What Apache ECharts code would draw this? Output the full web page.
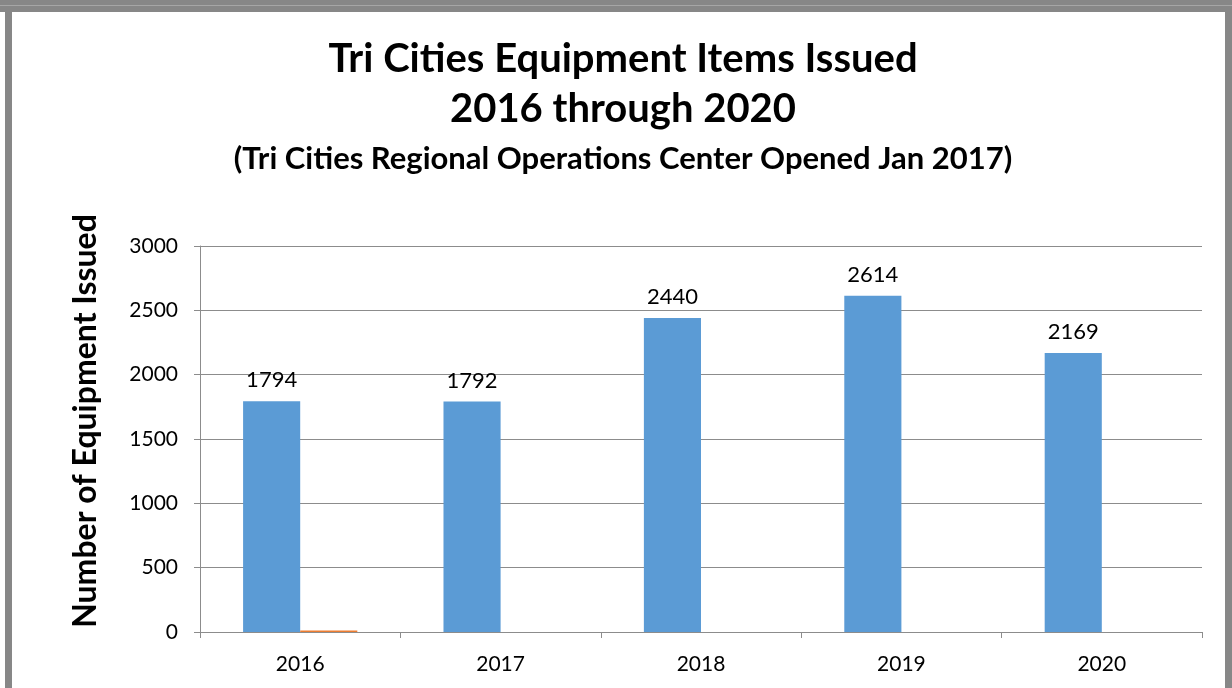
<!DOCTYPE html>
<html>
<head>
<meta charset="utf-8">
<script src="https://cdn.jsdelivr.net/npm/echarts@6/dist/echarts.min.js"></script>
<style>
  html, body { margin: 0; padding: 0; background: #fff; }
  #echarts { width: 1232px; height: 688px; }
</style>
</head>
<body>
<div id="echarts"></div>
<script>
// chart data
var years = ['2016', '2017', '2018', '2019', '2020'];
var issued = [1794, 1792, 2440, 2614, 2169];
var other = [12, 0, 0, 0, 0];
var yTicks = [0, 500, 1000, 1500, 2000, 2500, 3000];

var font = 'Lato, "Open Sans", sans-serif';
var myChart = echarts.init(document.getElementById('echarts'));

var option = {
  backgroundColor: '#fff',
  animation: false,
  color: ['#5B9BD5', '#ED7D31'],
  graphic: [
    // grey frame round the chart
    { type: 'rect', shape: { x: 0, y: 0, width: 1232, height: 12 }, style: { fill: '#878787' } },
    { type: 'rect', shape: { x: 0, y: 5, width: 1232, height: 1 }, style: { fill: '#a6a6a6' } },
    { type: 'rect', shape: { x: 5, y: 12, width: 7, height: 676 }, style: { fill: '#878787' } },
    { type: 'rect', shape: { x: 1225, y: 12, width: 7, height: 676 }, style: { fill: '#878787' } }
  ],
  title: [
    {
      text: 'Tri Cities Equipment Items Issued',
      left: 618, top: 34, textAlign: 'center',
      textStyle: { fontFamily: font, fontWeight: 'bold', fontSize: 40, color: '#000' }
    },
    {
      text: '2016 through 2020',
      left: 618, top: 84, textAlign: 'center',
      textStyle: { fontFamily: font, fontWeight: 'bold', fontSize: 40, color: '#000' }
    },
    {
      text: '(Tri Cities Regional Operations Center Opened Jan 2017)',
      left: 618, top: 138, textAlign: 'center',
      textStyle: { fontFamily: font, fontWeight: 'bold', fontSize: 31, color: '#000' }
    }
  ],
  grid: { left: 200, right: 30, top: 246, bottom: 56, containLabel: false },
  xAxis: {
    type: 'category',
    data: years,
    axisLine: { lineStyle: { color: '#8c8c8c', width: 1 } },
    axisTick: { show: true, length: 6, lineStyle: { color: '#8c8c8c' } },
    axisLabel: { fontFamily: font, fontSize: 21, color: '#000', margin: 22 }
  },
  yAxis: {
    type: 'value',
    min: yTicks[0],
    max: yTicks[yTicks.length - 1],
    interval: 500,
    name: 'Number of Equipment Issued',
    nameLocation: 'middle',
    nameRotate: 90,
    nameGap: 98,
    nameTextStyle: {
      fontFamily: font, fontWeight: 'bold', fontSize: 32, color: '#000',
      padding: [0, 0, 0, 36]
    },
    axisLine: { show: true, lineStyle: { color: '#8c8c8c', width: 1 } },
    axisTick: { show: true, length: 6, lineStyle: { color: '#8c8c8c' } },
    axisLabel: {
      fontFamily: font, fontSize: 21, color: '#000', margin: 22,
      formatter: function (v) { return String(v); }
    },
    splitLine: { lineStyle: { color: '#8c8c8c', width: 1 } }
  },
  series: [
    {
      name: 'Issued',
      type: 'bar',
      data: issued,
      barGap: '0%',
      barCategoryGap: '43%',
      label: {
        show: true, position: 'top', distance: 10,
        fontFamily: font, fontSize: 22, color: '#000'
      }
    },
    {
      name: 'Other',
      type: 'bar',
      data: other
    }
  ]
};

myChart.setOption(option, true);
</script>
</body>
</html>
